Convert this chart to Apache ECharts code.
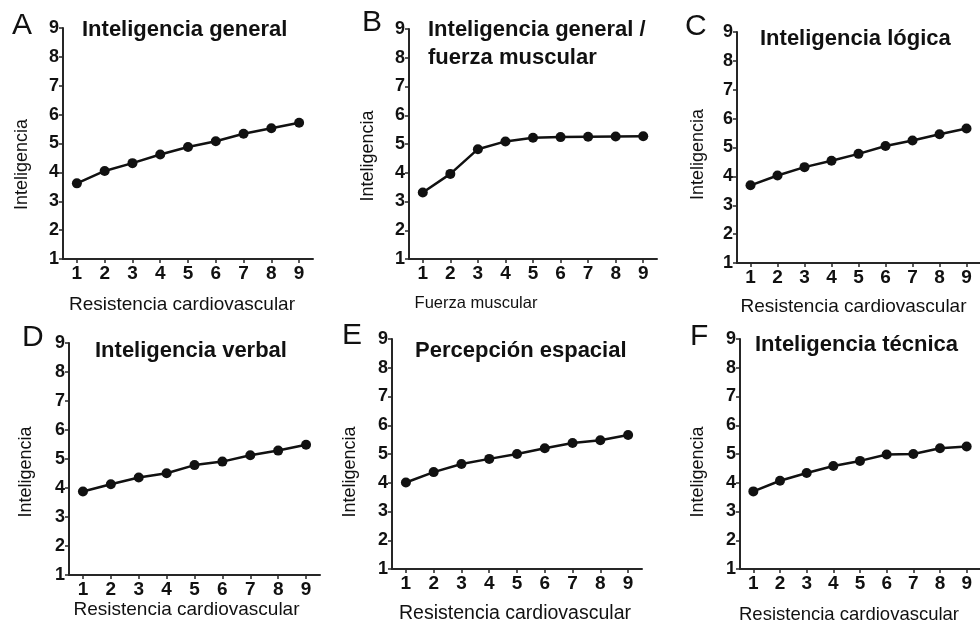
<!DOCTYPE html>
<html>
<head>
<meta charset="utf-8">
<script src="https://cdn.jsdelivr.net/npm/echarts@6/dist/echarts.min.js"></script>
<style>
html,body{margin:0;padding:0;background:#fff;}
#chart{width:980px;height:627px;}
</style>
</head>
<body>
<div id="chart"></div>
<script>
// ---- data ----
const xCategories = ['1','2','3','4','5','6','7','8','9'];
const yTicks = [1,2,3,4,5,6,7,8,9];
const panelLetters = ['A','B','C','D','E','F'];
const panelTitles = ['Inteligencia general', 'Inteligencia general /\nfuerza muscular', 'Inteligencia lógica', 'Inteligencia verbal', 'Percepción espacial', 'Inteligencia técnica'];
const xNames = ['Resistencia cardiovascular', 'Fuerza muscular', 'Resistencia cardiovascular', 'Resistencia cardiovascular', 'Resistencia cardiovascular', 'Resistencia cardiovascular'];
const yName = 'Inteligencia';
const dataA = [3.62, 4.05, 4.32, 4.62, 4.88, 5.08, 5.34, 5.53, 5.72];
const dataB = [3.31, 3.96, 4.82, 5.09, 5.22, 5.24, 5.25, 5.26, 5.27];
const dataC = [3.69, 4.03, 4.32, 4.54, 4.78, 5.05, 5.24, 5.46, 5.66];
const dataD = [3.88, 4.13, 4.36, 4.51, 4.79, 4.91, 5.13, 5.29, 5.49];
const dataE = [4.01, 4.37, 4.65, 4.83, 5.00, 5.20, 5.38, 5.48, 5.66];
const dataF = [3.70, 4.07, 4.34, 4.58, 4.76, 4.98, 5.00, 5.20, 5.26];
const allData = [dataA, dataB, dataC, dataD, dataE, dataF];

// ---- layout (styles/positions) ----
const FONT = "'Liberation Sans', Arial, Helvetica, sans-serif";
const grids = [
  {left: 63,  top: 28,  width: 250, height: 231},
  {left: 409, top: 29,  width: 248, height: 230},
  {left: 737, top: 32,  width: 250, height: 231},
  {left: 69,  top: 343, width: 251, height: 232},
  {left: 392, top: 339, width: 250, height: 230},
  {left: 740, top: 339, width: 248, height: 230}
];
const xNameCfg = [
  {gap: 36, shift: 6,  size: 19},
  {gap: 36, shift: 57, size: 16.5},
  {gap: 34, shift: 5,  size: 19},
  {gap: 23, shift: 8,  size: 19},
  {gap: 35, shift: 2,  size: 19.5},
  {gap: 36, shift: 11, size: 18.5}
];
const yNameCfg = [
  {gap: 32, shift: 21},
  {gap: 32, shift: 12},
  {gap: 30, shift: 7},
  {gap: 34, shift: 13},
  {gap: 33, shift: 18},
  {gap: 33, shift: 18}
];
const letterPos = [[12,26],[362,22.5],[685,27],[22,337.5],[342,336],[690,337]];
const titlePos = [[82,30],[428,26],[760,38.7],[95,350.7],[415,351],[755,345]];

const AXIS_COLOR = '#262626';
const TEXT_COLOR = '#111';

const option = {
  backgroundColor: '#fff',
  animation: false,
  grid: grids.map(g => Object.assign({containLabel: false}, g)),
  xAxis: grids.map((g, i) => ({
    type: 'category',
    gridIndex: i,
    data: xCategories,
    boundaryGap: true,
    name: xNames[i],
    nameLocation: 'middle',
    nameGap: xNameCfg[i].gap,
    nameTextStyle: {
      fontFamily: FONT, fontSize: xNameCfg[i].size, color: TEXT_COLOR,
      padding: [0, xNameCfg[i].shift * 2, 0, 0]
    },
    axisLine: {show: true, lineStyle: {color: AXIS_COLOR, width: 2}},
    axisTick: {show: true, alignWithLabel: true, length: 4, lineStyle: {color: AXIS_COLOR, width: 1.5}},
    axisLabel: {fontFamily: FONT, fontSize: 19, fontWeight: 'bold', color: TEXT_COLOR, margin: 5, interval: 0},
    splitLine: {show: false}
  })),
  yAxis: grids.map((g, i) => ({
    type: 'value',
    gridIndex: i,
    min: yTicks[0],
    max: yTicks[yTicks.length - 1],
    interval: 1,
    name: yName,
    nameLocation: 'middle',
    nameGap: yNameCfg[i].gap,
    nameRotate: 90,
    nameTextStyle: {
      fontFamily: FONT, fontSize: 18, color: TEXT_COLOR,
      padding: [0, yNameCfg[i].shift * 2, 0, 0]
    },
    axisLine: {show: true, lineStyle: {color: AXIS_COLOR, width: 2}},
    axisTick: {show: true, length: 4, lineStyle: {color: AXIS_COLOR, width: 1.5}},
    axisLabel: {fontFamily: FONT, fontSize: 18, fontWeight: 'bold', color: TEXT_COLOR, margin: 4},
    splitLine: {show: false}
  })),
  series: allData.map((d, i) => ({
    type: 'line',
    xAxisIndex: i,
    yAxisIndex: i,
    data: d,
    symbol: 'circle',
    symbolSize: 10,
    showSymbol: true,
    lineStyle: {color: '#111', width: 2.5},
    itemStyle: {color: '#111'}
  })),
  graphic: [].concat(
    panelLetters.map((L, i) => ({
      type: 'text', x: letterPos[i][0], y: letterPos[i][1],
      style: {text: L, fill: TEXT_COLOR, font: '30px ' + FONT, align: 'left', verticalAlign: 'middle'}
    })),
    panelTitles.map((t, i) => {
      if (i === 1) {
        return {
          type: 'text', x: titlePos[i][0], y: titlePos[i][1] - 10,
          style: {text: t, fill: TEXT_COLOR, font: 'bold 22px ' + FONT, lineHeight: 28, align: 'left', verticalAlign: 'top'}
        };
      }
      return {
        type: 'text', x: titlePos[i][0], y: titlePos[i][1],
        style: {text: t, fill: TEXT_COLOR, font: 'bold 22px ' + FONT, align: 'left', verticalAlign: 'middle'}
      };
    })
  )
};

const chart = echarts.init(document.getElementById('chart'), null, {renderer: 'canvas'});
chart.setOption(option);
</script>
</body>
</html>
